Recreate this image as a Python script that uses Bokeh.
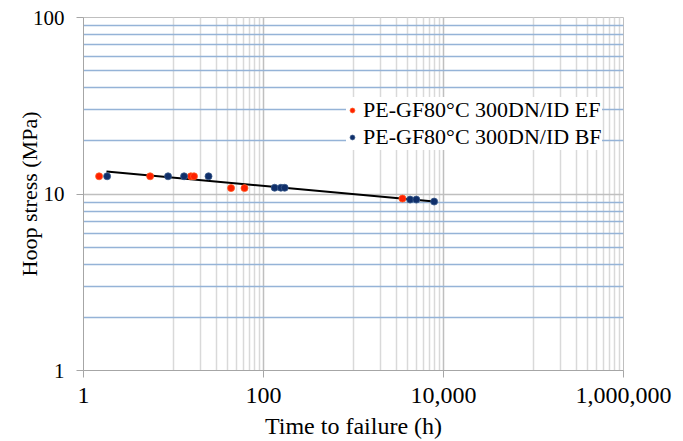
from bokeh.plotting import figure
from bokeh.models import FixedTicker, NumeralTickFormatter, Legend, LegendItem
from bokeh.embed import file_html
from bokeh.resources import INLINE

# Data (time to failure in h, hoop stress in MPa)
ef_time = [1.49, 5.5, 15.6, 16.9, 43.6, 61.5, 3500]
ef_stress = [12.6, 12.6, 12.6, 12.6, 10.8, 10.8, 9.42]
bf_time = [1.83, 8.7, 13.1, 24.5, 133, 156, 172, 4255, 4990, 7870]
bf_stress = [12.6, 12.6, 12.6, 12.6, 10.85, 10.85, 10.85, 9.3, 9.3, 9.06]
trend_time = [1.8, 7870]
trend_stress = [13.4, 9.07]

x_major = [1, 100, 10000, 1000000]
x_minor = [m * d for d in (10, 1000, 100000) for m in range(1, 10)]
y_major = [1, 10, 100]
y_minor = [m * d for d in (1, 10) for m in range(2, 10)]

FONT = "Liberation Serif"

p = figure(width=683, height=441, x_axis_type="log", y_axis_type="log",
           x_range=(1, 1000000), y_range=(1, 100),
           output_backend="svg", toolbar_location=None,
           min_border_left=83, min_border_top=17, min_border_right=60,
           min_border_bottom=70)
p.background_fill_color = "white"
p.outline_line_color = "#bfbfbf"

p.xaxis.ticker = FixedTicker(ticks=x_major, minor_ticks=x_minor)
p.yaxis.ticker = FixedTicker(ticks=y_major, minor_ticks=y_minor)
p.xaxis.formatter = NumeralTickFormatter(format="0,0")
p.yaxis.formatter = NumeralTickFormatter(format="0,0")

for ax in (p.xaxis, p.yaxis):
    ax.axis_line_color = "#a6a6a6"
    ax.major_tick_line_color = "#a6a6a6"
    ax.major_tick_in = 0
    ax.major_tick_out = 7
    ax.minor_tick_line_color = None
    ax.major_label_text_font = FONT
    ax.major_label_text_color = "black"
    ax.axis_label_text_font = FONT
    ax.axis_label_text_font_style = "normal"
    ax.axis_label_text_color = "black"

p.xaxis.major_label_text_font_size = "24px"
p.yaxis.major_label_text_font_size = "21px"
p.xaxis.axis_label_text_font_size = "24px"
p.yaxis.axis_label_text_font_size = "22px"

p.xaxis.axis_label = "Time to failure (h)"
p.yaxis.axis_label = "Hoop stress (MPa)"
p.xaxis.major_label_standoff = 10
p.xaxis.axis_label_standoff = 7
p.yaxis.major_label_standoff = 12
p.yaxis.axis_label_standoff = -12

p.xgrid.ticker = FixedTicker(ticks=x_major, minor_ticks=x_minor)
p.ygrid.ticker = FixedTicker(ticks=y_major, minor_ticks=y_minor)
p.xgrid.grid_line_color = "#bfbfbf"
p.xgrid.minor_grid_line_color = "#d9d9d9"
p.ygrid.grid_line_color = "#bfbfbf"
p.ygrid.minor_grid_line_color = "#95b3d7"
p.xgrid.grid_line_width = 1.5
p.xgrid.minor_grid_line_width = 1.5
p.ygrid.grid_line_width = 1.5
p.ygrid.minor_grid_line_width = 1.5

p.line(trend_time, trend_stress, line_color="black", line_width=2)
r_ef = p.scatter(ef_time, ef_stress, size=7, fill_color="#ff2000",
                 line_color="#ff5a20", line_width=0.8)
r_bf = p.scatter(bf_time, bf_stress, size=7, fill_color="#102f6a",
                 line_color="#3a5a8a", line_width=0.8)

legend = Legend(items=[
    LegendItem(label="PE-GF80°C 300DN/ID EF", renderers=[r_ef]),
    LegendItem(label="PE-GF80°C 300DN/ID BF", renderers=[r_bf]),
], location=(263, 220))
legend.label_text_font = FONT
legend.label_text_font_size = "22px"
legend.label_text_color = "black"
legend.border_line_color = None
legend.background_fill_color = "white"
legend.background_fill_alpha = 1.0
legend.padding = 16
legend.spacing = 1
legend.margin = 0
legend.glyph_width = 12
legend.glyph_height = 16
legend.label_standoff = 5
p.add_layout(legend, "center")

open("out.html", "w").write(file_html(p, INLINE))
